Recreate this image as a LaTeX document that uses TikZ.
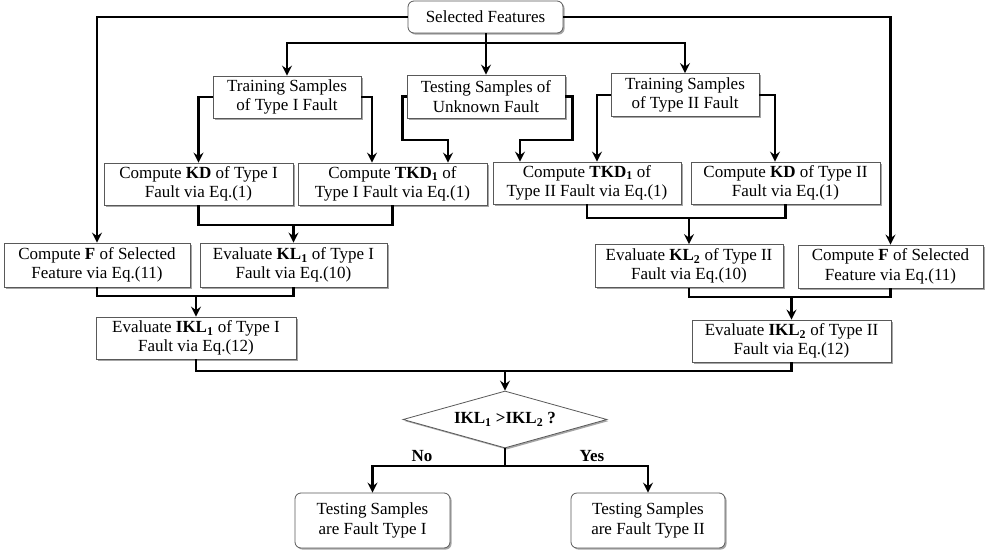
\documentclass[tikz,border=0pt]{standalone}
\usepackage{fontspec}
\setmainfont{Liberation Serif}
\usetikzlibrary{arrows.meta,shapes.geometric,shadows}
\tikzset{
  base/.style={draw=black!65, line width=0.8pt, fill=white, align=center, inner sep=0pt,
    font=\fontsize{17}{19.5}\selectfont,
    drop shadow={shadow xshift=1.6pt, shadow yshift=-1.6pt, opacity=0.35, fill=black}},
  box/.style={base},
  rbox/.style={base, rounded corners=6pt},
  dia/.style={base, diamond, aspect=3.67},
  conn/.style={line width=2.8pt, line join=miter},
  arr/.style={conn, -{Stealth[length=10pt, width=10pt, inset=3.5pt]}},
  lbl/.style={font=\fontsize{17}{19}\selectfont\bfseries}
}
\begin{document}
\begin{tikzpicture}[x=1pt, y=-1pt]
\useasboundingbox (0,0) rectangle (985,551);
% nodes
\node[rbox, minimum width=155pt, minimum height=32pt] (sel) at (485.5,17) {Selected Features};
\node[box, minimum width=148pt, minimum height=42pt] (tr1) at (287,97) {Training Samples\\of Type I Fault};
\node[box, minimum width=158pt, minimum height=43pt] (test) at (486,96.5) {Testing Samples of\\Unknown Fault};
\node[box, minimum width=148pt, minimum height=43pt] (tr2) at (685,95) {Training Samples\\of Type II Fault};
\node[box, minimum width=189pt, minimum height=42pt] (kd1) at (198.5,184) {Compute \textbf{KD} of Type I\\Fault via Eq.(1)};
\node[box, minimum width=189pt, minimum height=42pt] (tkd1) at (392.5,184) {Compute \textbf{TKD\textsubscript{1}} of\\Type I Fault via Eq.(1)};
\node[box, minimum width=188pt, minimum height=42pt] (tkd2) at (587,183) {Compute \textbf{TKD\textsubscript{1}} of\\Type II Fault via Eq.(1)};
\node[box, minimum width=189pt, minimum height=42pt] (kd2) at (785.5,183) {Compute \textbf{KD} of Type II\\Fault via Eq.(1)};
\node[box, minimum width=186pt, minimum height=44pt] (f1) at (97,265) {Compute \textbf{F} of Selected\\Feature via Eq.(11)};
\node[box, minimum width=187pt, minimum height=44pt] (kl1) at (293.5,265) {Evaluate \textbf{KL\textsubscript{1}} of Type I\\Fault via Eq.(10)};
\node[box, minimum width=188pt, minimum height=43pt] (kl2) at (689,266) {Evaluate \textbf{KL\textsubscript{2}} of Type II\\Fault via Eq.(10)};
\node[box, minimum width=185pt, minimum height=43pt] (f2) at (890.5,266.5) {Compute \textbf{F} of Selected\\Feature via Eq.(11)};
\node[box, minimum width=200pt, minimum height=42pt] (ikl1) at (196,338) {Evaluate \textbf{IKL\textsubscript{1}} of Type I\\Fault via Eq.(12)};
\node[box, minimum width=199pt, minimum height=42pt] (ikl2) at (791.5,341) {Evaluate \textbf{IKL\textsubscript{2}} of Type II\\Fault via Eq.(12)};
\node[dia, minimum width=204pt, minimum height=57pt] (dec) at (505,419.5) {\textbf{IKL\textsubscript{1} >IKL\textsubscript{2} ?}};
\node[rbox, minimum width=155pt, minimum height=55pt] (out1) at (372.5,520.5) {Testing Samples\\are Fault Type I};
\node[rbox, minimum width=154pt, minimum height=55pt] (out2) at (648,520.5) {Testing Samples\\are Fault Type II};
\node[lbl] (no) at (422,456) {No};
\node[lbl] (yes) at (592,456) {Yes};
% coordinates
\coordinate (b1) at (486,43);
\coordinate (ta) at (448,140);
\coordinate (tb) at (520,140);
\coordinate (m1) at (293.5,225);
\coordinate (m2) at (689,218);
\coordinate (m3) at (196,296);
\coordinate (m4) at (791.5,297);
\coordinate (m5) at (505,371);
\coordinate (m6) at (505,466);
% connectors
\draw[arr] (sel.west) -| (f1.north);
\draw[arr] (sel.east) -| (f2.north);
\draw[arr] (sel.south -| b1) -- (test.north -| b1);
\draw[arr] (b1) -| (tr1.north);
\draw[arr] (b1) -| (tr2.north);
\draw[arr] (tr1.west) -| (kd1.north);
\draw[arr] (tr1.east) -| ([xshift=-20.5pt]tkd1.north);
\draw[arr] (test.west) -- ++(-4,0) |- (ta) -- (ta |- tkd1.north);
\draw[arr] (test.east) -- ++(7,0) |- (tb) -- (tb |- tkd2.north);
\draw[arr] (tr2.west) -| ([xshift=10pt]tkd2.north);
\draw[arr] (tr2.east) -| ([xshift=-10.5pt]kd2.north);
\draw[conn] (kd1.south) |- (m1) -| (tkd1.south);
\draw[arr] (m1) -- (kl1.north);
\draw[conn] (tkd2.south) |- (m2) -| (kd2.south);
\draw[arr] (m2) -- (kl2.north);
\draw[conn] (f1.south) |- (m3) -| (kl1.south);
\draw[arr] (m3) -- (ikl1.north);
\draw[conn] (kl2.south) |- (m4) -| (f2.south);
\draw[arr] (m4) -- (ikl2.north);
\draw[conn] (ikl1.south) |- (m5) -| (ikl2.south);
\draw[arr] (m5) -- (dec.north);
\draw[conn] (dec.south) -- (m6);
\draw[arr] (m6) -| (out1.north);
\draw[arr] (m6) -| (out2.north);
\end{tikzpicture}
\end{document}
